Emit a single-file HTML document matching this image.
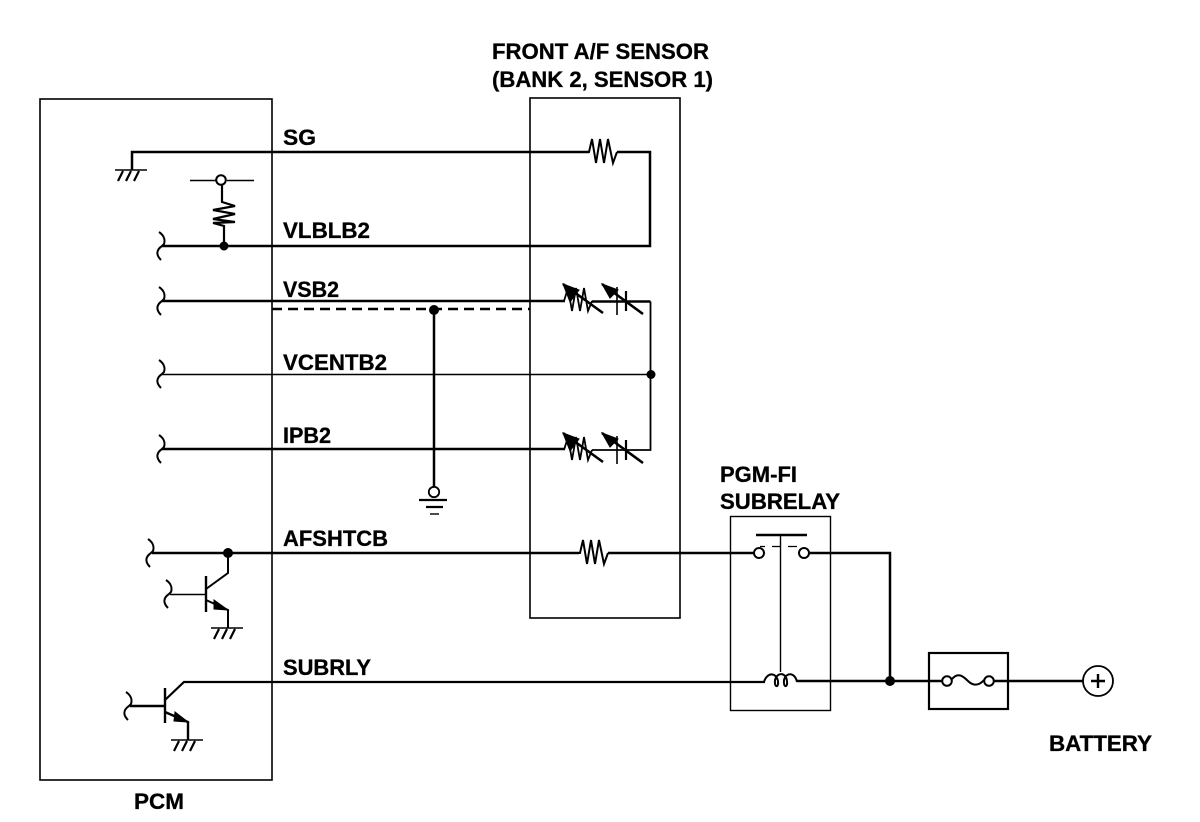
<!DOCTYPE html>
<html>
<head>
<meta charset="utf-8">
<style>
html,body{margin:0;padding:0;background:#fff;width:1200px;height:822px;overflow:hidden}
svg{display:block}
text{font-family:"Liberation Sans",Arial,sans-serif;font-weight:bold;font-size:22px;fill:#000;stroke:#000;stroke-width:.3px}
</style>
</head>
<body>
<svg width="1200" height="822" viewBox="0 0 1200 822" xmlns="http://www.w3.org/2000/svg">
<defs>
<g id="gnd" fill="none" stroke="#000">
  <path d="M-17 0H15" stroke-width="1.6"/>
  <path d="M-9 1L-14 11M-1 1L-6 11M7 1L2 11" stroke-width="2.2"/>
</g>
<path id="brk" d="M-3 -14C3 -10 3 -5 2 -2L0 0C-6 4 -6 9 -1 14" fill="none" stroke="#000" stroke-width="2"/>
<g id="vr" fill="none" stroke="#000">
  <path d="M564 0L568 -13L572 10L576 -13L580 10L584 -13L588 10L592 0" stroke-width="1.8"/>
  <path d="M563 -17L603 12M602 -17L643 13" stroke-width="2.6"/>
  <path d="M563 -17L579 -11L570 1Z" fill="#000" stroke="#000"/>
  <path d="M602 -17L618 -11L610 -3Z" fill="#000" stroke="#000"/>
  <path d="M617 -14V14" stroke-width="1.6"/>
  <path d="M626 -10V10" stroke-width="2.2"/>
</g>
<path id="res" d="M0 0H3L6 -13L10 11L14 -13L18 11L22 -13L27 11L31 0" fill="none" stroke="#000" stroke-width="2"/>
</defs>

<g fill="none" stroke="#000">
  <!-- boxes -->
  <rect x="40" y="99" width="232" height="681" stroke-width="1.6"/>
  <rect x="530" y="98" width="150" height="520" stroke-width="1.6"/>
  <rect x="730.500" y="516.500" width="100" height="194" stroke-width="1.4"/>
  <rect x="929" y="653" width="79" height="56" stroke-width="2.2"/>

  <!-- SG -->
  <path d="M132 170V152H589" stroke-width="2.500"/>
  <path d="M617 152H650V246H162" stroke-width="2.500"/>
  <use href="#res" transform="translate(586,152)"/>
  <use href="#gnd" transform="translate(132,170)"/>

  <!-- VLBLB2 pull-up -->
  <path d="M190 180.500H216M227 180.500H254" stroke-width="1.4"/>
  <circle cx="221" cy="180" r="4.800" stroke-width="2"/>
  <path d="M222 185V202L235 206L213 210L235 214L213 219L235 222L213 223L224 226V246" stroke-width="2.2"/>

  <!-- VSB2 / dashed / VCENT / IP -->
  <path d="M162 301H565" stroke-width="2.500"/>
  <path d="M272 309H530" stroke-width="2.500" stroke-dasharray="10 6"/>
  <path d="M162 374.500H650" stroke-width="1.500"/>
  <path d="M162 449H565" stroke-width="2.500"/>
  <path d="M434 310V487" stroke-width="2.500"/>
  <circle cx="434" cy="492" r="5.200" stroke-width="1.800"/>
  <path d="M419 500H447" stroke-width="2.200"/>
  <path d="M426 507H443" stroke-width="2.200"/>
  <path d="M430 514H439" stroke-width="1.400"/>

  <!-- sensor right side -->
  <path d="M592 450H650.500V301.500" stroke-width="1.800"/>
  <path d="M592 301.500H650.500" stroke-width="2.500"/>
  <use href="#vr" transform="translate(0,301)"/>
  <use href="#vr" transform="translate(0,450)"/>

  <!-- AFSHTCB -->
  <path d="M152 553H579" stroke-width="2.500"/>
  <use href="#res" transform="translate(577,553)"/>
  <path d="M608 553H754" stroke-width="2.500"/>
  <path d="M228 553V573L206 589" stroke-width="2"/>
  <path d="M206 576V612" stroke-width="2.400"/>
  <path d="M170 594.500H206" stroke-width="1.500"/>
  <path d="M206 600L228 610V628" stroke-width="2"/>
  <use href="#gnd" transform="translate(228,628)"/>

  <!-- SUBRLY -->
  <path d="M165 700L184 682H765" stroke-width="2.200"/>
  <path d="M165 688V723" stroke-width="2.400"/>
  <path d="M130 706H165" stroke-width="2.500"/>
  <path d="M165 712L188 722V740" stroke-width="2.400"/>
  <use href="#gnd" transform="translate(188,740)"/>

  <!-- relay -->
  <path d="M756 535H807" stroke-width="2.400"/>
  <path d="M780.500 535V672" stroke-width="1.400"/>
  <path d="M760 546.500H765M772 546.500H780M788 546.500H797" stroke-width="1.200"/>
  <circle cx="759" cy="553" r="5" stroke-width="2"/>
  <circle cx="804" cy="553" r="5" stroke-width="2"/>
  <path d="M809 553H890V681" stroke-width="2.500"/>
  <path d="M764 682C767 672 776 672 778 681C779 688 774 688 775 680C777 672 786 672 787 681C788 688 783 688 784 680C786 672 795 672 797 682" stroke-width="2"/>
  <path d="M797 681H942M994 681H1083" stroke-width="2.500"/>

  <!-- fuse -->
  <circle cx="947" cy="681" r="4.800" stroke-width="2"/>
  <circle cx="989" cy="681" r="4.800" stroke-width="2"/>
  <path d="M952 679C958 672 963 676 968 681C972 685 978 687 984 680" stroke-width="2"/>

  <!-- battery -->
  <circle cx="1098" cy="681" r="15" stroke-width="1.800"/>
  <path d="M1091 681H1105M1098 674V688" stroke-width="2.400"/>
</g>
<use href="#brk" transform="translate(162,246)"/>
<use href="#brk" transform="translate(162,301)"/>
<use href="#brk" transform="translate(162,374)"/>
<use href="#brk" transform="translate(162,449)"/>
<use href="#brk" transform="translate(151,553)"/>
<use href="#brk" transform="translate(169,594)"/>
<use href="#brk" transform="translate(129,706)"/>

<!-- transistor arrows -->
<path d="M228 610L214 600L214 609Z" fill="#000" stroke="#000"/>
<path d="M188 722L175 712L174 721Z" fill="#000" stroke="#000"/>

<!-- junctions -->
<circle cx="224" cy="246" r="4.500" fill="#000"/>
<circle cx="434" cy="310" r="5" fill="#000"/>
<circle cx="651" cy="374.500" r="4.500" fill="#000"/>
<circle cx="228" cy="553" r="5" fill="#000"/>
<circle cx="890" cy="681" r="5" fill="#000"/>

<!-- labels -->
<text x="492" y="59" textLength="217" lengthAdjust="spacingAndGlyphs">FRONT A/F SENSOR</text>
<text x="492" y="87" textLength="221" lengthAdjust="spacingAndGlyphs">(BANK 2, SENSOR 1)</text>
<text x="283" y="145" textLength="33" lengthAdjust="spacingAndGlyphs">SG</text>
<text x="283" y="238" textLength="87" lengthAdjust="spacingAndGlyphs">VLBLB2</text>
<text x="283" y="297" textLength="56" lengthAdjust="spacingAndGlyphs">VSB2</text>
<text x="283" y="370" textLength="104" lengthAdjust="spacingAndGlyphs">VCENTB2</text>
<text x="283" y="443" textLength="48" lengthAdjust="spacingAndGlyphs">IPB2</text>
<text x="283" y="546" textLength="105" lengthAdjust="spacingAndGlyphs">AFSHTCB</text>
<text x="283" y="675" textLength="88" lengthAdjust="spacingAndGlyphs">SUBRLY</text>
<text x="720" y="482" textLength="77" lengthAdjust="spacingAndGlyphs">PGM-FI</text>
<text x="720" y="509" textLength="120" lengthAdjust="spacingAndGlyphs">SUBRELAY</text>
<text x="1049" y="751" textLength="103" lengthAdjust="spacingAndGlyphs">BATTERY</text>
<text x="134" y="809" textLength="50" lengthAdjust="spacingAndGlyphs">PCM</text>
</svg>
</body>
</html>
